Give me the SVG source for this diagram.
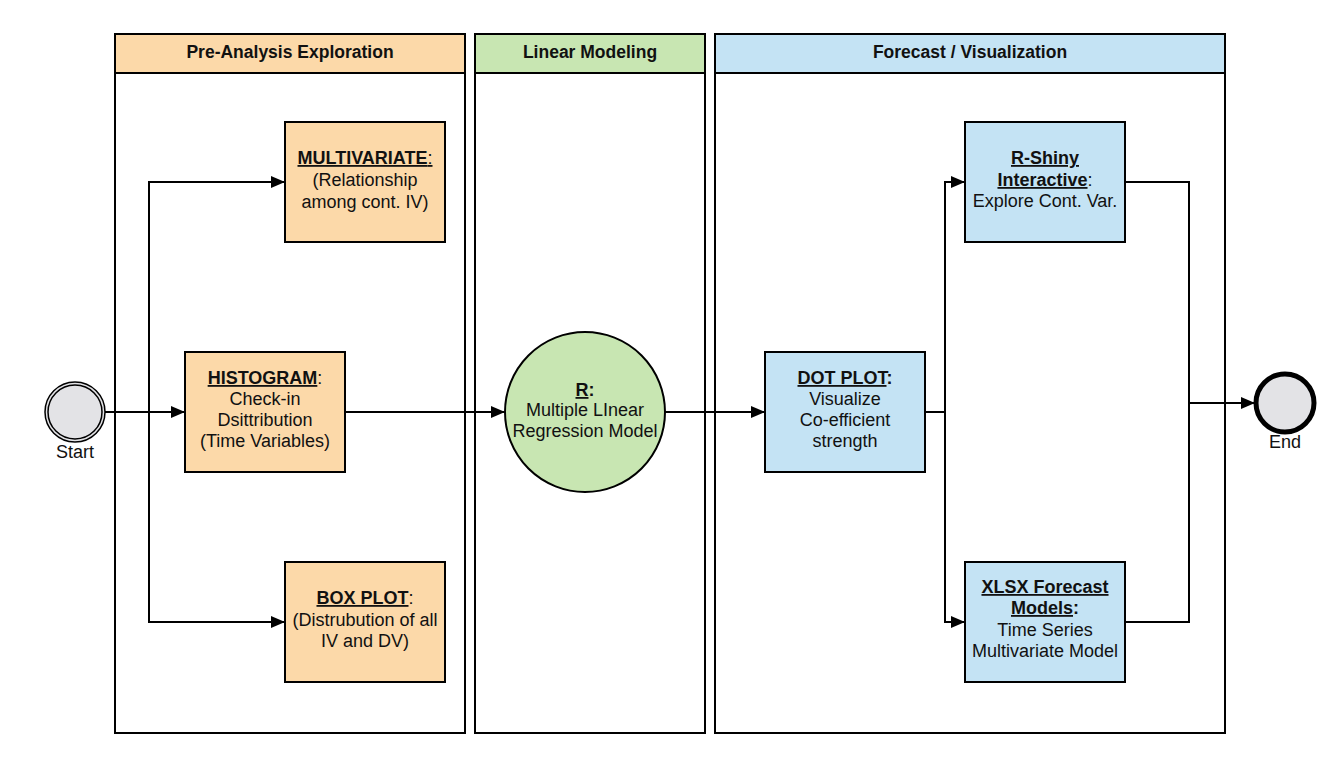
<svg xmlns="http://www.w3.org/2000/svg" width="1340" height="770" viewBox="0 0 1340 770">
<style>
text{font-family:"Liberation Sans",Arial,sans-serif;font-size:18px;fill:#111;text-anchor:middle}
.h{font-weight:bold;font-size:17.5px}
.b{font-weight:bold}
.u{text-decoration:underline}
.lane{fill:#fff;stroke:#000;stroke-width:2}
.orange{fill:#fcd9a9;stroke:#000;stroke-width:2}
.green{fill:#c8e6b2;stroke:#000;stroke-width:2}
.blue{fill:#c4e3f4;stroke:#000;stroke-width:2}
.c{fill:none;stroke:#000;stroke-width:2}
</style>
<defs>
<marker id="ah" viewBox="0 0 14 12" refX="14" refY="6" markerWidth="14" markerHeight="12" markerUnits="userSpaceOnUse" orient="auto">
<path d="M0,0 L14,6 L0,12 z" fill="#000"/>
</marker>
</defs>
<rect width="1340" height="770" fill="#fff"/>
<g id="lane-pre">
<rect class="lane" x="115" y="34" width="350" height="699"/>
<rect class="orange" x="115" y="34" width="350" height="39"/>
<text class="h" x="290" y="58">Pre-Analysis Exploration</text>
</g>
<g id="lane-linear">
<rect class="lane" x="475" y="34" width="230" height="699"/>
<rect class="green" x="475" y="34" width="230" height="39"/>
<text class="h" x="590" y="58">Linear Modeling</text>
</g>
<g id="lane-forecast">
<rect class="lane" x="715" y="34" width="510" height="699"/>
<rect class="blue" x="715" y="34" width="510" height="39"/>
<text class="h" x="970" y="58">Forecast / Visualization</text>
</g>
<g id="connectors">
<path class="c" d="M105,412 H185" marker-end="url(#ah)"/>
<path class="c" d="M149,412 V182 H285" marker-end="url(#ah)"/>
<path class="c" d="M149,412 V622 H285" marker-end="url(#ah)"/>
<path class="c" d="M345,412 H505" marker-end="url(#ah)"/>
<path class="c" d="M665,412 H765" marker-end="url(#ah)"/>
<path class="c" d="M925,412 H945 V182 H965" marker-end="url(#ah)"/>
<path class="c" d="M945,412 V622 H965" marker-end="url(#ah)"/>
<path class="c" d="M1125,182 H1189 V622 H1125"/>
<path class="c" d="M1189,403 H1255" marker-end="url(#ah)"/>
</g>
<g id="start">
<circle cx="75" cy="412" r="30" fill="#e3e3e6" stroke="#000" stroke-width="1.5"/>
<circle cx="75" cy="412" r="27" fill="none" stroke="#000" stroke-width="1.5"/>
<text x="75" y="458">Start</text>
</g>
<g id="multivariate">
<rect class="orange" x="285" y="122" width="160" height="120"/>
<text x="365" y="164"><tspan class="b u">MULTIVARIATE</tspan><tspan class="u">:</tspan></text>
<text x="365" y="186">(Relationship</text>
<text x="365" y="208">among cont. IV)</text>
</g>
<g id="histogram">
<rect class="orange" x="185" y="352" width="160" height="120"/>
<text x="265" y="384"><tspan class="b u">HISTOGRAM</tspan>:</text>
<text x="265" y="405">Check-in</text>
<text x="265" y="426">Dsittribution</text>
<text x="265" y="447">(Time Variables)</text>
</g>
<g id="boxplot">
<rect class="orange" x="285" y="562" width="160" height="120"/>
<text x="365" y="604"><tspan class="b u">BOX PLOT</tspan>:</text>
<text x="365" y="626">(Distrubution of all</text>
<text x="365" y="647">IV and DV)</text>
</g>
<g id="r-model">
<circle cx="585" cy="412" r="80" fill="#c8e6b2" stroke="#000" stroke-width="2"/>
<text x="585" y="396"><tspan class="b u">R</tspan><tspan class="b">:</tspan></text>
<text x="585" y="416">Multiple LInear</text>
<text x="585" y="437">Regression Model</text>
</g>
<g id="dotplot">
<rect class="blue" x="765" y="352" width="160" height="120"/>
<text x="845" y="384"><tspan class="b u">DOT PLOT</tspan><tspan class="b">:</tspan></text>
<text x="845" y="405">Visualize</text>
<text x="845" y="426">Co-efficient</text>
<text x="845" y="447">strength</text>
</g>
<g id="rshiny">
<rect class="blue" x="965" y="122" width="160" height="120"/>
<text x="1045" y="164" class="b u">R-Shiny</text>
<text x="1045" y="186"><tspan class="b u">Interactive</tspan>:</text>
<text x="1045" y="207">Explore Cont. Var.</text>
</g>
<g id="xlsx">
<rect class="blue" x="965" y="562" width="160" height="120"/>
<text x="1045" y="593" class="b u">XLSX Forecast</text>
<text x="1045" y="614"><tspan class="b u">Models</tspan><tspan class="b">:</tspan></text>
<text x="1045" y="636">Time Series</text>
<text x="1045" y="657">Multivariate Model</text>
</g>
<g id="end">
<circle cx="1285" cy="403" r="29" fill="#e3e3e6" stroke="#000" stroke-width="5"/>
<text x="1285" y="448">End</text>
</g>
</svg>
